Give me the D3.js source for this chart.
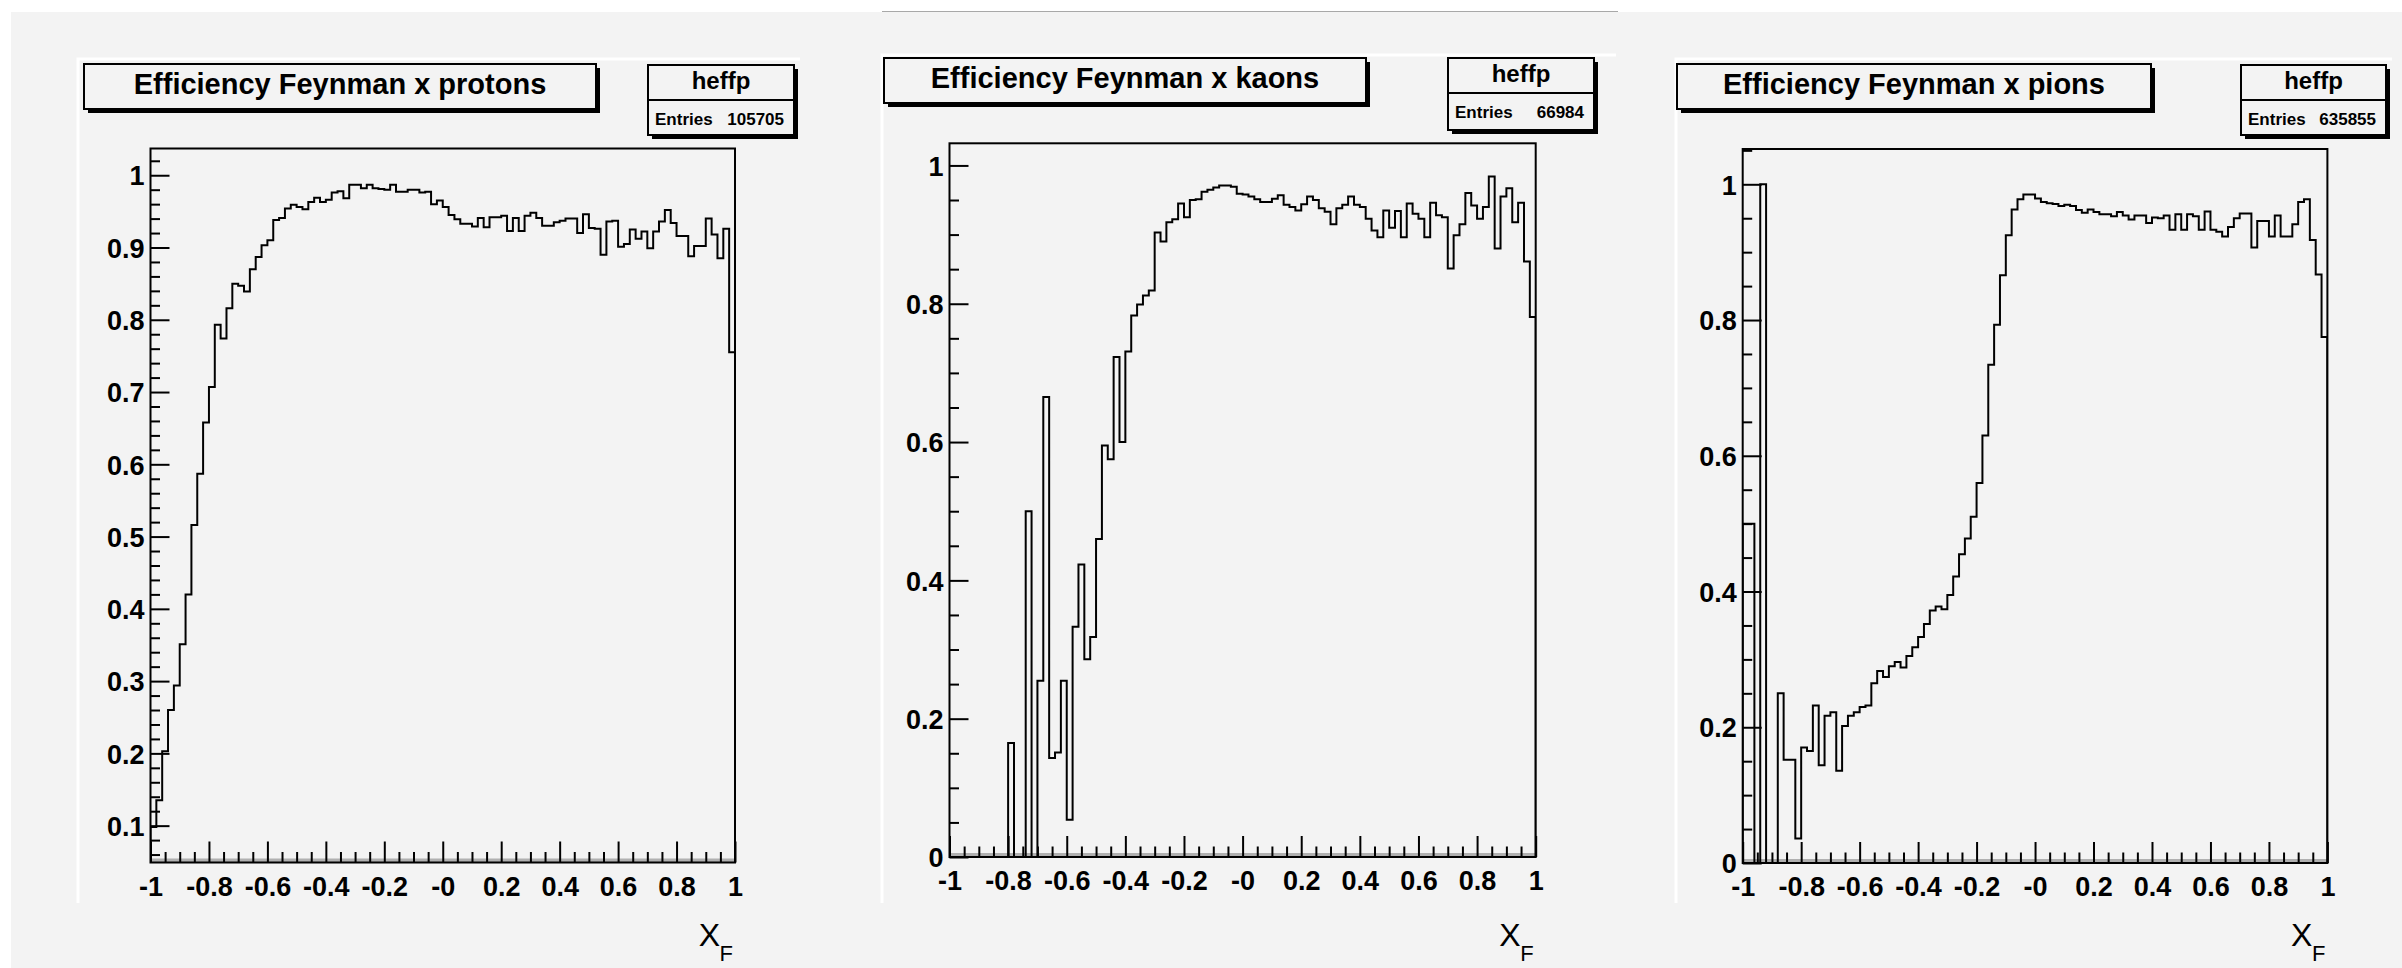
<!DOCTYPE html>
<html><head><meta charset="utf-8">
<script src="https://cdn.jsdelivr.net/npm/d3@7/dist/d3.min.js"></script>
<style>body{margin:0;background:#fff}svg{display:block}</style>
</head><body>
<svg id="c" width="2402" height="968"></svg>
<script>
// ---------------- data ----------------
const xMin = -1, xMax = 1, nBins = 100;
const titles = ["Efficiency Feynman x protons", "Efficiency Feynman x kaons", "Efficiency Feynman x pions"];
const histNames = ["heffp", "heffp", "heffp"];
const entries = ["105705", "66984", "635855"];
const xTickValues = [-1, -0.8, -0.6, -0.4, -0.2, 0, 0.2, 0.4, 0.6, 0.8, 1];
const xTickLabels = ["-1", "-0.8", "-0.6", "-0.4", "-0.2", "-0", "0.2", "0.4", "0.6", "0.8", "1"];
const yTicksProtons = [0.1, 0.2, 0.3, 0.4, 0.5, 0.6, 0.7, 0.8, 0.9, 1];
const yLabelsProtons = ["0.1", "0.2", "0.3", "0.4", "0.5", "0.6", "0.7", "0.8", "0.9", "1"];
const yTicksOther = [0, 0.2, 0.4, 0.6, 0.8, 1];
const yLabelsOther = ["0", "0.2", "0.4", "0.6", "0.8", "1"];
const xTitle = "X", xTitleSub = "F";

const protons = [
 0.098,0.135,0.203,0.260,0.294,0.351,0.420,0.516,0.587,0.658,
 0.707,0.793,0.774,0.816,0.850,0.847,0.839,0.870,0.887,0.903,
 0.910,0.938,0.941,0.954,0.959,0.956,0.953,0.963,0.969,0.963,
 0.966,0.976,0.978,0.968,0.987,0.987,0.982,0.987,0.982,0.981,
 0.980,0.987,0.977,0.977,0.980,0.980,0.976,0.977,0.960,0.965,
 0.956,0.945,0.939,0.933,0.933,0.929,0.941,0.928,0.942,0.942,
 0.944,0.923,0.941,0.923,0.944,0.948,0.941,0.930,0.930,0.935,
 0.937,0.940,0.940,0.920,0.946,0.927,0.926,0.890,0.936,0.937,
 0.901,0.905,0.925,0.912,0.922,0.899,0.922,0.936,0.952,0.934,
 0.916,0.916,0.888,0.902,0.902,0.940,0.918,0.885,0.926,0.755];

const kaons = [
 0,0,0,0,0,0,0,0,0,0,
 0.165,0,0,0.5,0,0.255,0.665,0.143,0.151,0.255,
 0.054,0.333,0.423,0.286,0.318,0.46,0.595,0.575,0.723,0.60,
 0.731,0.783,0.799,0.812,0.819,0.903,0.890,0.918,0.922,0.945,
 0.925,0.950,0.951,0.962,0.965,0.968,0.971,0.971,0.969,0.959,
 0.958,0.955,0.951,0.947,0.947,0.952,0.957,0.943,0.940,0.935,
 0.944,0.955,0.950,0.938,0.933,0.915,0.938,0.943,0.955,0.943,
 0.940,0.923,0.906,0.896,0.935,0.910,0.934,0.896,0.945,0.930,
 0.923,0.896,0.946,0.928,0.925,0.851,0.899,0.915,0.960,0.942,
 0.923,0.940,0.984,0.880,0.955,0.967,0.918,0.946,0.861,0.781];

const pions = [
 0.5,0.5,0,1.0,0,0,0.25,0.152,0.152,0.036,
 0.170,0.165,0.232,0.144,0.217,0.222,0.136,0.202,0.217,0.222,
 0.230,0.232,0.265,0.283,0.274,0.290,0.296,0.288,0.305,0.318,
 0.333,0.352,0.372,0.378,0.374,0.395,0.422,0.455,0.478,0.510,
 0.560,0.630,0.734,0.793,0.866,0.925,0.963,0.978,0.985,0.985,
 0.979,0.974,0.972,0.971,0.968,0.970,0.968,0.962,0.958,0.963,
 0.959,0.956,0.956,0.953,0.959,0.954,0.948,0.954,0.954,0.943,
 0.951,0.950,0.954,0.933,0.956,0.933,0.956,0.953,0.933,0.960,
 0.933,0.930,0.923,0.937,0.950,0.957,0.957,0.907,0.946,0.946,
 0.923,0.954,0.923,0.923,0.941,0.974,0.978,0.918,0.867,0.775];

// ---------------- layout ----------------
const BG = "#f3f3f3";
const FONT = "'Liberation Sans', Arial, Helvetica, sans-serif";
const panels = [
  {data: protons, yDomain: [0.049, 1.037], yTicks: yTicksProtons, yLabels: yLabelsProtons, yMinorStep: 0.02,
   frame: {x0: 150.5, x1: 735, y0: 148.5, y1: 862.5}, pad: {x0: 78, x1: 800, y0: 59, y1: 903},
   tbox: {x: 84, y: 64, w: 512, h: 45}, sbox: {x: 648, y: 65, w: 146, h: 70}},
  {data: kaons, yDomain: [0, 1.032], yTicks: yTicksOther, yLabels: yLabelsOther, yMinorStep: 0.05,
   frame: {x0: 949.5, x1: 1535.7, y0: 143.3, y1: 857}, pad: {x0: 882, x1: 1616, y0: 55, y1: 903},
   tbox: {x: 884, y: 58, w: 482, h: 45}, sbox: {x: 1448, y: 58, w: 146, h: 72}},
  {data: pions, yDomain: [0, 1.052], yTicks: yTicksOther, yLabels: yLabelsOther, yMinorStep: 0.05,
   frame: {x0: 1742.7, x1: 2327.4, y0: 149, y1: 863}, pad: {x0: 1676, x1: 2392, y0: 59, y1: 903},
   tbox: {x: 1677, y: 64, w: 474, h: 45}, sbox: {x: 2241, y: 65, w: 145, h: 70}}
];

const svg = d3.select("#c");
svg.append("rect").attr("x", 11).attr("y", 12).attr("width", 2402 - 11).attr("height", 968 - 12).attr("fill", BG);
svg.append("line").attr("x1", 882).attr("x2", 1618).attr("y1", 11.5).attr("y2", 11.5)
  .attr("stroke", "#a8a8a8").attr("stroke-width", 1);

function drawBox(g, b) {
  g.append("rect").attr("x", b.x + 4).attr("y", b.y + 4).attr("width", b.w).attr("height", b.h).attr("fill", "#000");
  g.append("rect").attr("x", b.x).attr("y", b.y).attr("width", b.w).attr("height", b.h)
    .attr("fill", BG).attr("stroke", "#000").attr("stroke-width", 2);
}

panels.forEach((p, k) => {
  const g = svg.append("g");
  const f = p.frame;
  // pad highlight edges
  g.append("path").attr("d", `M${p.pad.x0},${p.pad.y1} L${p.pad.x0},${p.pad.y0} L${p.pad.x1},${p.pad.y0}`)
    .attr("fill", "none").attr("stroke", "#fff").attr("stroke-width", 3);

  const x = d3.scaleLinear().domain([xMin, xMax]).range([f.x0, f.x1]);
  const y = d3.scaleLinear().domain(p.yDomain).range([f.y1, f.y0]);

  const cid = "clip" + k;
  g.append("clipPath").attr("id", cid).append("rect")
    .attr("x", f.x0).attr("y", f.y0).attr("width", f.x1 - f.x0).attr("height", f.y1 - f.y0);

  // gray shading at frame bottom
  g.append("rect").attr("x", f.x0).attr("y", f.y1 - 4).attr("width", f.x1 - f.x0).attr("height", 3.5)
    .attr("fill", "#b0b0b0");

  // x axis ticks (inside frame)
  const xMinor = d3.range(-1, 1.0001, 0.05).filter(v => Math.abs(Math.round(v * 5) - v * 5) > 1e-6);
  const xAxisMinor = d3.axisBottom(x).tickValues(xMinor).tickSize(-10.5).tickFormat("");
  const xAxisMajor = d3.axisBottom(x).tickValues(xTickValues).tickSize(-21).tickPadding(14)
    .tickFormat((d, i) => xTickLabels[i]);
  const gxm = g.append("g").attr("transform", `translate(0,${f.y1})`).call(xAxisMinor);
  const gx = g.append("g").attr("transform", `translate(0,${f.y1})`).call(xAxisMajor);

  // y axis ticks
  const lo = p.yDomain[0], hi = p.yDomain[1];
  const yMinor = d3.range(Math.ceil(lo / p.yMinorStep - 1e-9), Math.floor(hi / p.yMinorStep + 1e-9) + 1)
    .map(i => +(i * p.yMinorStep).toFixed(4))
    .filter(v => !p.yTicks.some(t => Math.abs(t - v) < 1e-6));
  const yAxisMinor = d3.axisLeft(y).tickValues(yMinor).tickSize(-9.5).tickFormat("");
  const yAxisMajor = d3.axisLeft(y).tickValues(p.yTicks).tickSize(-19).tickPadding(6)
    .tickFormat((d, i) => p.yLabels[i]);
  const gym = g.append("g").attr("transform", `translate(${f.x0},0)`).call(yAxisMinor);
  const gy = g.append("g").attr("transform", `translate(${f.x0},0)`).call(yAxisMajor);

  [gxm, gx, gym, gy].forEach(a => {
    a.select(".domain").remove();
    a.selectAll(".tick line").attr("stroke", "#000").attr("stroke-width", 2);
    a.selectAll(".tick text").attr("fill", "#000").attr("font-family", FONT)
      .attr("font-weight", "bold").attr("font-size", 27);
  });
  gy.selectAll(".tick text").attr("dy", "0.36em");

  // histogram outline
  const w = (xMax - xMin) / nBins;
  const pts = [[x(xMin), y(lo)]];
  p.data.forEach((v, i) => {
    const a = xMin + i * w, b = a + w;
    pts.push([x(a), y(v)], [x(b), y(v)]);
  });
  pts.push([x(xMax), y(lo)]);
  g.append("path").attr("clip-path", `url(#${cid})`)
    .attr("d", d3.line()(pts)).attr("fill", "none").attr("stroke", "#000")
    .attr("stroke-width", 2).attr("stroke-linejoin", "miter");

  // frame
  g.append("rect").attr("x", f.x0).attr("y", f.y0).attr("width", f.x1 - f.x0).attr("height", f.y1 - f.y0)
    .attr("fill", "none").attr("stroke", "#000").attr("stroke-width", 2);

  // x axis title
  g.append("text").attr("x", f.x1 - 15).attr("y", 946).attr("text-anchor", "end")
    .attr("font-family", FONT).attr("font-size", 32).attr("fill", "#000").text(xTitle);
  g.append("text").attr("x", f.x1 - 2).attr("y", 961).attr("text-anchor", "end")
    .attr("font-family", FONT).attr("font-size", 22).attr("fill", "#000").text(xTitleSub);

  // title box
  drawBox(g, p.tbox);
  g.append("text").attr("x", p.tbox.x + p.tbox.w / 2).attr("y", p.tbox.y + 30).attr("text-anchor", "middle")
    .attr("font-family", FONT).attr("font-weight", "bold").attr("font-size", 29).attr("fill", "#000")
    .text(titles[k]);

  // stats box
  const s = p.sbox;
  drawBox(g, s);
  g.append("line").attr("x1", s.x).attr("x2", s.x + s.w).attr("y1", s.y + 35).attr("y2", s.y + 35)
    .attr("stroke", "#000").attr("stroke-width", 2);
  g.append("text").attr("x", s.x + s.w / 2).attr("y", s.y + 24).attr("text-anchor", "middle")
    .attr("font-family", FONT).attr("font-weight", "bold").attr("font-size", 24).attr("fill", "#000")
    .text(histNames[k]);
  g.append("text").attr("x", s.x + 7).attr("y", s.y + 60).attr("text-anchor", "start")
    .attr("font-family", FONT).attr("font-weight", "bold").attr("font-size", 17).attr("fill", "#000")
    .text("Entries");
  g.append("text").attr("x", s.x + s.w - 10).attr("y", s.y + 60).attr("text-anchor", "end")
    .attr("font-family", FONT).attr("font-weight", "bold").attr("font-size", 17).attr("fill", "#000")
    .text(entries[k]);
});
</script>
</body></html>
